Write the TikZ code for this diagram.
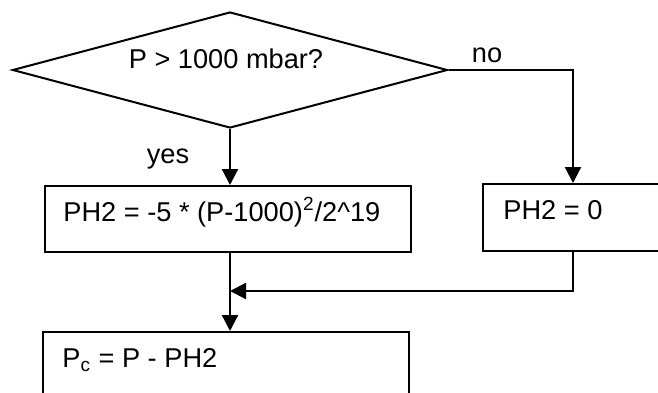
\documentclass[tikz,border=0pt]{standalone}
\usepackage{fontspec}
\setmainfont{Liberation Sans}
\usetikzlibrary{shapes.geometric,arrows.meta,calc}
\tikzset{
  box/.style={draw,line width=1pt,rectangle,inner sep=0pt,minimum width=183pt,minimum height=33pt},
  txt/.style={anchor=base west,inner sep=0pt},
  arr/.style={line width=1.1pt,-{Triangle[length=8pt,width=8pt]}}
}
\begin{document}
\begin{tikzpicture}[x=0.5pt,y=-0.5pt,font=\fontsize{13.6}{16}\selectfont]
\clip (0,0) rectangle (658,392);

\node[draw,line width=1pt,diamond,inner sep=0pt,minimum width=217.5pt,minimum height=58pt] (test) at (230,70) {};
\node[anchor=base,inner sep=0pt] (testtext) at (226,68) {P > 1000 mbar?};

\node[box] (calc) at (228,219) {};
\node[box,minimum width=90pt,minimum height=33.5pt] (zero) at (573,217.5) {};
\node[box] (pc) at (226,365) {};

\node[txt] (calctext) at ($(calc.north west)+(19,36)$) {PH2 = -5 * (P-1000)\textsuperscript{2}/2\^{}19};
\node[txt] (zerotext) at ($(zero.north west)+(21,36)$) {PH2 = 0};
\node[txt] (pctext) at ($(pc.north west)+(20,36)$) {P\textsubscript{c} = P - PH2};

\node[anchor=base,inner sep=0pt] (yes) at (168,163) {yes};
\node[anchor=base,inner sep=0pt] (no) at (487,62) {no};

\coordinate (join) at (230,291);
\draw[arr] (test.south) -- (test.south |- calc.north);
\draw[arr] (test.east) -| (zero.north);
\draw[arr] (zero.south) |- (join);
\draw[arr] (test.south |- calc.south) -- (test.south |- pc.north);
\end{tikzpicture}
\end{document}
